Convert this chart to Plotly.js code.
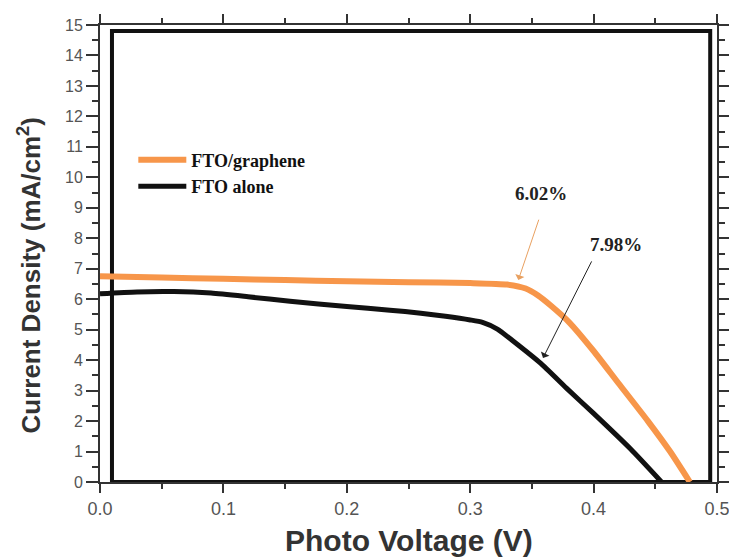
<!DOCTYPE html>
<html>
<head>
<meta charset="utf-8">
<script src="https://cdn.plot.ly/plotly-3.0.1.min.js"></script>
<style>html,body{margin:0;padding:0;background:#fff;}#chart{width:729px;height:559px;}</style>
</head>
<body>
<div id="chart"></div>
<script>
// Series: FTO/graphene (orange)
const grapheneV = [0, 0.05, 0.10, 0.15, 0.20, 0.25, 0.30, 0.33, 0.345, 0.355, 0.365, 0.38, 0.40, 0.42, 0.444, 0.462, 0.478];
const grapheneJ = [6.75, 6.71, 6.67, 6.63, 6.59, 6.56, 6.53, 6.48, 6.35, 6.12, 5.80, 5.25, 4.30, 3.25, 2.00, 1.00, 0];
// Series: FTO alone (black)
const aloneV = [0, 0.03, 0.06, 0.09, 0.12, 0.154, 0.20, 0.235, 0.26, 0.28, 0.30, 0.31, 0.322, 0.335, 0.357, 0.378, 0.40, 0.43, 0.455];
const aloneJ = [6.18, 6.24, 6.25, 6.20, 6.08, 5.93, 5.76, 5.64, 5.54, 5.44, 5.32, 5.24, 5.02, 4.62, 3.90, 3.08, 2.25, 1.08, 0];
const seriesNames = ["FTO/graphene", "FTO alone"];
const efficiencyLabels = ["6.02%", "7.98%"];
const xTickVals = [0, 0.1, 0.2, 0.3, 0.4, 0.5];
const xTickText = ["0.0", "0.1", "0.2", "0.3", "0.4", "0.5"];
const yTickVals = [0,1,2,3,4,5,6,7,8,9,10,11,12,13,14,15];

const orange = "#F7964A";
const serif = "Liberation Serif, Times New Roman, serif";
const sans = "Liberation Sans, Arial, sans-serif";

const traces = [
  {x: grapheneV, y: grapheneJ, name: seriesNames[0], mode: "lines", type: "scatter",
   line: {color: orange, width: 6, shape: "spline", smoothing: 0.6}},
  {x: aloneV, y: aloneJ, name: seriesNames[1], mode: "lines", type: "scatter",
   line: {color: "#111111", width: 5, shape: "spline", smoothing: 0.6}}
];

const layout = {
  width: 729, height: 559,
  margin: {l: 100, r: 12, t: 25, b: 77},
  paper_bgcolor: "#fff", plot_bgcolor: "#fff",
  showlegend: true,
  legend: {x: 0.054, y: 0.745, xanchor: "left", yanchor: "top",
           font: {family: serif, size: 18, color: "#111", weight: "bold"},
           bgcolor: "rgba(0,0,0,0)", itemwidth: 48, tracegroupgap: 0},
  xaxis: {range: [0, 0.5], tickvals: xTickVals, ticktext: xTickText,
          showgrid: false, zeroline: false, showline: true, linecolor: "#333", linewidth: 2,
          mirror: "ticks", ticks: "outside", ticklen: 9, tickwidth: 2, tickcolor: "#333",
          ticklabeloverflow: "allow",
          minor: {dtick: 0.05, ticks: "outside", ticklen: 5, tickwidth: 2, tickcolor: "#333"},
          tickfont: {family: sans, size: 18, color: "#555"}},
  yaxis: {range: [0, 15], tickvals: yTickVals,
          showgrid: false, zeroline: false, showline: true, linecolor: "#333", linewidth: 2,
          mirror: "ticks", ticks: "outside", ticklen: 12, tickwidth: 2, tickcolor: "#333",
          minor: {dtick: 0.5, ticks: "outside", ticklen: 6, tickwidth: 2, tickcolor: "#333"},
          tickfont: {family: sans, size: 16, color: "#555"}},
  shapes: [
    {type: "rect", xref: "x", yref: "y", x0: 0.0097, x1: 0.4945, y0: 0, y1: 14.8,
     line: {color: "#111", width: 4}, layer: "below"}
  ],
  annotations: [
    {xref: "paper", yref: "paper", x: 0.5, y: 0, yanchor: "top", yshift: -40,
     text: "Photo Voltage (V)", showarrow: false,
     font: {family: sans, size: 30, color: "#333", weight: "bold"}},
    {xref: "paper", yref: "paper", x: 0, y: 0.5, xanchor: "center", yshift: -22, xshift: -70,
     text: "Current Density (mA/cm<sup>2</sup>)", textangle: -90, showarrow: false,
     font: {family: sans, size: 26, color: "#333", weight: "bold"}},
    {xref: "x", yref: "y", x: 0.357, y: 9.48, text: efficiencyLabels[0], showarrow: false,
     font: {family: serif, size: 19, color: "#222", weight: "bold"}},
    {xref: "x", yref: "y", x: 0.418, y: 7.78, text: efficiencyLabels[1], showarrow: false,
     font: {family: serif, size: 19, color: "#222", weight: "bold"}},
    {xref: "x", yref: "y", x: 0.339, y: 6.63, axref: "x", ayref: "y", ax: 0.356, ay: 8.66,
     text: "", showarrow: true, arrowhead: 1, arrowsize: 1.6, arrowwidth: 1, arrowcolor: "#E8A060"},
    {xref: "x", yref: "y", x: 0.359, y: 4.07, axref: "x", ayref: "y", ax: 0.399, ay: 7.29,
     text: "", showarrow: true, arrowhead: 1, arrowsize: 1.6, arrowwidth: 1, arrowcolor: "#222"}
  ]
};

Plotly.newPlot("chart", traces, layout, {displayModeBar: false, staticPlot: true});
</script>
</body>
</html>
